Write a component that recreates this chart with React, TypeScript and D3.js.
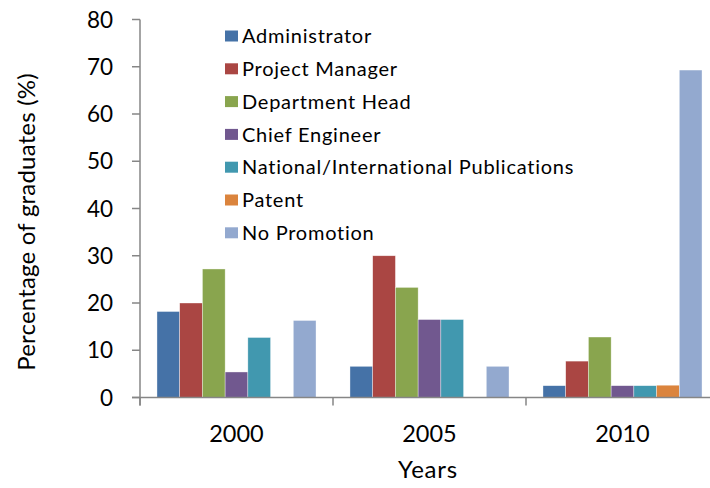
import React from "react";
import * as d3 from "d3";

const categories = ["2000", "2005", "2010"];
const seriesNames = [
  "Administrator",
  "Project Manager",
  "Department Head",
  "Chief Engineer",
  "National/International Publications",
  "Patent",
  "No Promotion",
];
const colors = ["#4572A7", "#AA4643", "#89A54E", "#71588F", "#4198AF", "#DB843D", "#93A9CF"];
const administrator = [18.2, 6.6, 2.5];
const projectManager = [20.0, 30.0, 7.7];
const departmentHead = [27.2, 23.3, 12.8];
const chiefEngineer = [5.4, 16.5, 2.5];
const publications = [12.7, 16.5, 2.5];
const patent = [0, 0, 2.6];
const noPromotion = [16.3, 6.6, 69.3];
const yTicks = [0, 10, 20, 30, 40, 50, 60, 70, 80];

const seriesValues = [administrator, projectManager, departmentHead, chiefEngineer, publications, patent, noPromotion];

export default function App() {
  const W = 710, H = 488;
  const left = 140, right = 719, top = 19.5, bottom = 397.5;
  const font = "Lato, 'Open Sans', sans-serif";
  const axisColor = "#868686";

  const y = d3.scaleLinear().domain([0, 80]).range([bottom, top]);
  const x = d3.scaleBand<string>().domain(categories).range([left, right]).padding(0);
  const bw = x.bandwidth();
  const inner = d3.scaleBand<number>().domain(d3.range(seriesNames.length)).range([bw * 0.088, bw * 0.912]).padding(0);

  return (
    <svg width={W} height={H} style={{ position: "absolute", left: 0, top: 0, background: "#fff" }}>
      {/* bars */}
      {categories.map((c, ci) => (
        <g key={c}>
          {seriesValues.map((vals, si) =>
            vals[ci] > 0 ? (
              <rect
                key={si}
                x={(x(c) as number) + (inner(si) as number)}
                y={y(vals[ci])}
                width={inner.bandwidth()}
                height={y(0) - y(vals[ci])}
                fill={colors[si]}
                stroke="#ffffff"
                strokeOpacity={0.6}
                strokeWidth={0.6}
              />
            ) : null
          )}
        </g>
      ))}
      {/* y axis */}
      <line x1={left} x2={left} y1={top} y2={bottom + 8} stroke={axisColor} strokeWidth={1.5} />
      {yTicks.map((t) => (
        <g key={t}>
          <line x1={left - 8} x2={left} y1={y(t)} y2={y(t)} stroke={axisColor} strokeWidth={1.5} />
          <text x={113} y={y(t)} dy="0.36em" textAnchor="end" fontFamily={font} fontSize={22.5} fill="#000">
            {t}
          </text>
        </g>
      ))}
      {/* x axis */}
      <line x1={left - 8} x2={right} y1={bottom} y2={bottom} stroke={axisColor} strokeWidth={1.5} />
      {categories.map((c) => (
        <line key={"t" + c} x1={x(c) as number} x2={x(c) as number} y1={bottom} y2={bottom + 8} stroke={axisColor} strokeWidth={1.5} />
      ))}
      {categories.map((c) => (
        <text key={"l" + c} x={(x(c) as number) + bw / 2} y={442} textAnchor="middle" fontFamily={font} fontSize={23.5} fill="#000">
          {c}
        </text>
      ))}
      <text x={428} y={478} textAnchor="middle" fontFamily={font} fontSize={24} letterSpacing={0.8} fill="#000">
        Years
      </text>
      <text
        transform={`translate(35, 222) rotate(-90)`}
        textAnchor="middle"
        fontFamily={font}
        fontSize={24}
        letterSpacing={0.2}
        fill="#000"
      >
        Percentage of graduates (%)
      </text>
      {/* legend */}
      {seriesNames.map((n, i) => (
        <g key={n} transform={`translate(225, ${36 + i * 32.8})`}>
          <rect x={0} y={-5.5} width={13} height={11} fill={colors[i]} />
          <text x={17} y={0} dy="0.36em" fontFamily={font} fontSize={20} letterSpacing={0.75} fill="#000">
            {n}
          </text>
        </g>
      ))}
    </svg>
  );
}
